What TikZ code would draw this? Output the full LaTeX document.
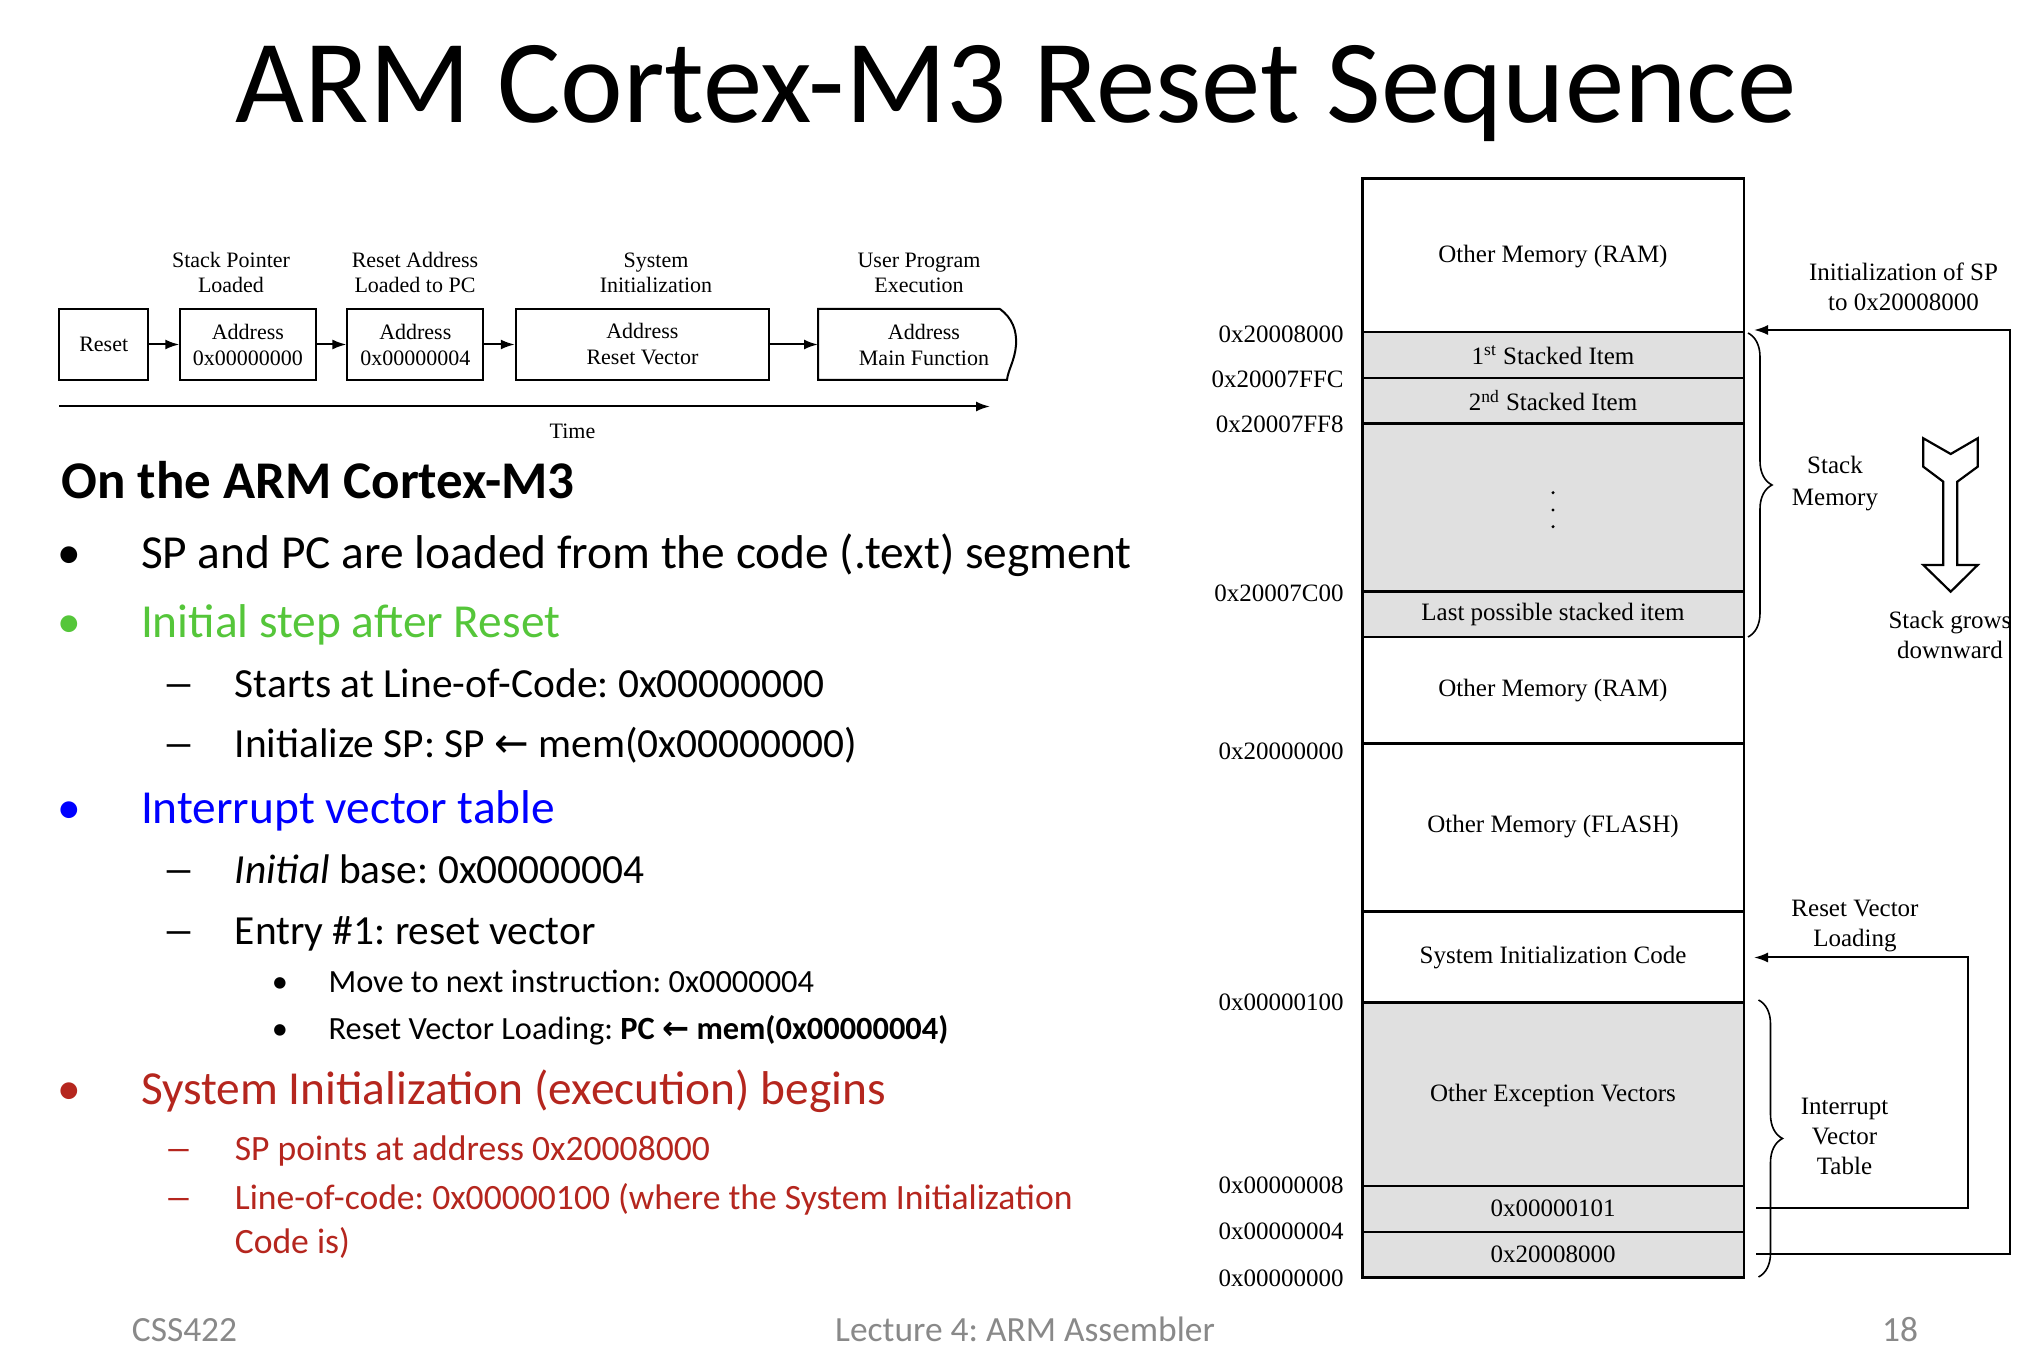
\documentclass[tikz,border=0pt]{standalone}
\usepackage{fontspec}
\usepackage{graphicx}
\setmainfont{Carlito}
\newfontfamily\tnr{Liberation Serif}
\newfontfamily\djv{DejaVu Sans}
\usetikzlibrary{decorations.pathreplacing,arrows.meta}
\definecolor{grn}{RGB}{85,198,58}
\definecolor{blu}{RGB}{0,0,255}
\definecolor{rd}{RGB}{181,38,30}
\definecolor{ftgray}{RGB}{137,137,137}
\definecolor{cellgray}{RGB}{224,224,224}
\newcommand{\larr}{{\djv ←}}
\newcommand{\mydash}{\scalebox{1.6}[1]{\textendash}}
\frenchspacing
\begin{document}
\begin{tikzpicture}[x=0.5pt,y=-0.5pt,
  every node/.style={inner sep=0pt},
  conn/.style={line width=1pt,-{Latex[length=7pt,width=5pt]}},
  fbox/.style={draw,line width=1pt,minimum height=35.5pt,align=center,font=\tnr\fontsize{11}{13}\selectfont},
  flab/.style={align=center,font=\tnr\fontsize{11}{12.5}\selectfont},
  mcell/.style={draw,line width=1.1pt},
  mtext/.style={align=center,font=\tnr\fontsize{12.5}{15}\selectfont},
  maddr/.style={anchor=east,font=\tnr\fontsize{12.5}{15}\selectfont},
  lone/.style={anchor=base west,font=\fontsize{23.7}{28}\selectfont},
  ltwo/.style={anchor=base west,font=\fontsize{20.7}{25}\selectfont},
  lthree/.style={anchor=base west,font=\fontsize{16.2}{20}\selectfont},
  lred/.style={anchor=base west,text=rd,font=\fontsize{17.8}{21}\selectfont},
  bone/.style={anchor=base,font=\fontsize{23.7}{28}\selectfont},
  btwo/.style={anchor=base,font=\fontsize{20.7}{25}\selectfont},
  bred/.style={anchor=base,text=rd,font=\fontsize{17.8}{21}\selectfont},
  bthree/.style={anchor=base,font=\fontsize{16.2}{20}\selectfont},
  foot/.style={anchor=base,text=ftgray,font=\fontsize{17.7}{21}\selectfont}]
\useasboundingbox (0,0) rectangle (2042,1368);
\fill[white] (0,0) rectangle (2042,1368);

% title
\node[anchor=base,font=\fontsize{59.4}{70}\selectfont] (title) at (1016,123) {ARM Cortex-M3 Reset Sequence};

% flow diagram
\node[fbox,minimum width=44.7pt] (rst) at (103.7,344.5) {Reset};
\node[fbox,minimum width=67.6pt] (b2) at (247.9,344.5) {Address\\0x00000000};
\node[fbox,minimum width=67.9pt] (b3) at (415.3,344.5) {Address\\0x00000004};
\node[fbox,minimum width=126.6pt] (b4) at (642.4,344.5) {Address\\Reset Vector};
\draw[line width=1pt] (1000,309) -- (818,309) -- (818,380) -- (1007,380)
  .. controls (1008,370) and (1015,360) .. (1016,345)
  .. controls (1017,330) and (1012,318) .. (1000,309);
\node[align=center,font=\tnr\fontsize{11}{13}\selectfont] (b5) at (924,344.5) {Address\\Main Function};
\coordinate (b5w) at (818,344.5);
\draw[conn] (rst) -- (b2);
\draw[conn] (b2) -- (b3);
\draw[conn] (b3) -- (b4);
\draw[conn] (b4) -- (b5w);
\node[flab] (lab2) at (231,272.5) {Stack Pointer\\Loaded};
\node[flab] (lab3) at (415,272.5) {Reset Address\\Loaded to PC};
\node[flab] (lab4) at (656,272.5) {System\\Initialization};
\node[flab] (lab5) at (919,272.5) {User Program\\Execution};
\coordinate (ta) at (59,406.5);
\coordinate (tb) at (990,406.5);
\draw[conn] (ta) -- (tb);
\node[flab] (time) at (572.5,431) {Time};

% memory map
\fill[cellgray] (1362.5,332) rectangle (1744,637);
\fill[cellgray] (1362.5,1002.5) rectangle (1744,1277.5);
\foreach \a/\b in {178.5/332,332/378,378/423.5,423.5/591.5,591.5/637,637/743.5,743.5/911.5,911.5/1002.5,1002.5/1186,1186/1232,1232/1277.5}
  \draw[mcell] (1362.5,\a) rectangle (1744,\b);
\node[mtext] (m1) at (1553,256.5) {Other Memory (RAM)};
\node[mtext] (m2) at (1553,355) {1\textsuperscript{st} Stacked Item};
\node[mtext] (m3) at (1553,400.5) {2\textsuperscript{nd} Stacked Item};
\foreach \yy in {492.7,510,526.7}
  \fill (1553,\yy) circle (1.7);
\node[mtext] (m5) at (1553,614) {Last possible stacked item};
\node[mtext] (m6) at (1553,690.5) {Other Memory (RAM)};
\node[mtext] (m7) at (1553,827) {Other Memory (FLASH)};
\node[mtext] (m8) at (1553,957.5) {System Initialization Code};
\node[mtext] (m9) at (1553,1095) {Other Exception Vectors};
\node[mtext] (m10) at (1553,1208) {0x00000101};
\node[mtext] (m11) at (1553,1254) {0x20008000};

\node[maddr] (a1) at (1344,334) {0x20008000};
\node[maddr] (a2) at (1344,379) {0x20007FFC};
\node[maddr] (a3) at (1344,424) {0x20007FF8};
\node[maddr] (a4) at (1344,593) {0x20007C00};
\node[maddr] (a5) at (1344,751.5) {0x20000000};
\node[maddr] (a6) at (1344,1002) {0x00000100};
\node[maddr] (a7) at (1344,1185.5) {0x00000008};
\node[maddr] (a8) at (1344,1231.5) {0x00000004};
\node[maddr] (a9) at (1344,1278) {0x00000000};

% braces
\draw[line width=0.8pt,decorate,decoration={brace,amplitude=12pt}] (1748,333) -- (1748,637);
\draw[line width=0.8pt,decorate,decoration={brace,amplitude=12pt}] (1758.5,1000) -- (1758.5,1277);
\node[mtext,font=\tnr\fontsize{12.5}{16}\selectfont] (smem) at (1835,484) {Stack\\Memory};
\node[mtext] (ivt) at (1844.5,1136) {Interrupt\\Vector\\Table};

% hollow arrow
\draw[line width=1.1pt,line join=miter]
  (1923.3,438.3) -- (1950.7,454) -- (1977.7,438.3) -- (1977.7,466.7) -- (1957.3,481.7)
  -- (1957.3,565) -- (1977.7,565) -- (1950.7,591.7) -- (1923.3,565) -- (1943.3,565)
  -- (1943.3,481.7) -- (1923.3,466.7) -- cycle;
\begin{scope}
\clip (0,0) rectangle (2011,1368);
\node[mtext] (sgd) at (1950,634.5) {Stack grows\\downward};
\end{scope}
\node[mtext] (isp) at (1903.5,286.5) {Initialization of SP\\to 0x20008000};
\node[mtext] (rvl) at (1855,926.5) {Reset Vector\\Loading};

% connectors
\coordinate (sp0) at (1756,1253.5);
\coordinate (sp1) at (2010,1253.5);
\coordinate (sp2) at (2010,330);
\coordinate (sp3) at (1754,330);
\draw[conn,line join=miter] (sp0) -- (sp1) -- (sp2) -- (sp3);
\coordinate (rv0) at (1756,1208);
\coordinate (rv1) at (1968,1208);
\coordinate (rv2) at (1968,957.5);
\coordinate (rv3) at (1754,957.5);
\draw[conn,line join=miter] (rv0) -- (rv1) -- (rv2) -- (rv3);

% text list
\node[anchor=base west,font=\bfseries\fontsize{26.5}{32}\selectfont] (hdr) at (61.2,499) {On the ARM Cortex-M3};
\node[bone] (k1) at (69,568.5) {\textbullet};
\node[lone] (x1) at (140.6,568.5) {SP and PC are loaded from the code (.text) segment};
\node[bone,text=grn] (k2) at (69,637.5) {\textbullet};
\node[lone,text=grn] (x2) at (140.6,637.5) {Initial step after Reset};
\node[btwo] (k3) at (178.5,698) {\mydash};
\node[ltwo] (x3) at (234.4,698) {Starts at Line-of-Code: 0x00000000};
\node[btwo] (k4) at (178.5,758) {\mydash};
\node[ltwo] (x4) at (234.4,758) {Initialize SP: SP \larr\ mem(0x00000000)};
\node[bone,text=blu] (k5) at (69,823.5) {\textbullet};
\node[lone,text=blu] (x5) at (140.6,823.5) {Interrupt vector table};
\node[btwo] (k6) at (178.5,884) {\mydash};
\node[ltwo] (x6) at (234.4,884) {\textit{Initial} base: 0x00000004};
\node[btwo] (k7) at (178.5,945) {\mydash};
\node[ltwo] (x7) at (234.4,945) {Entry \#1: reset vector};
\node[bthree] (k8) at (280,993) {\textbullet};
\node[lthree] (x8) at (328.2,993) {Move to next instruction: 0x0000004};
\node[bthree] (k9) at (280,1040) {\textbullet};
\node[lthree] (x9) at (328.2,1040) {Reset Vector Loading: \textbf{PC \larr\ mem(0x00000004)}};
\node[bone,text=rd] (k10) at (69,1105) {\textbullet};
\node[lone,text=rd] (x10) at (140.6,1105) {System Initialization (execution) begins};
\node[bred] (k11) at (178.5,1160) {\mydash};
\node[lred] (x11) at (234.4,1160) {SP points at address 0x20008000};
\node[bred] (k12) at (178.5,1210) {\mydash};
\node[lred] (x12) at (234.4,1210) {Line-of-code: 0x00000100 (where the System Initialization};
\node[lred] (x13) at (234.4,1253.5) {Code is)};

% footer
\node[foot,anchor=base west] (f1) at (131.5,1341) {CSS422};
\node[foot] (f2) at (1025,1341) {Lecture 4: ARM Assembler};
\node[foot] (f3) at (1900,1341) {18};
\end{tikzpicture}
\end{document}
